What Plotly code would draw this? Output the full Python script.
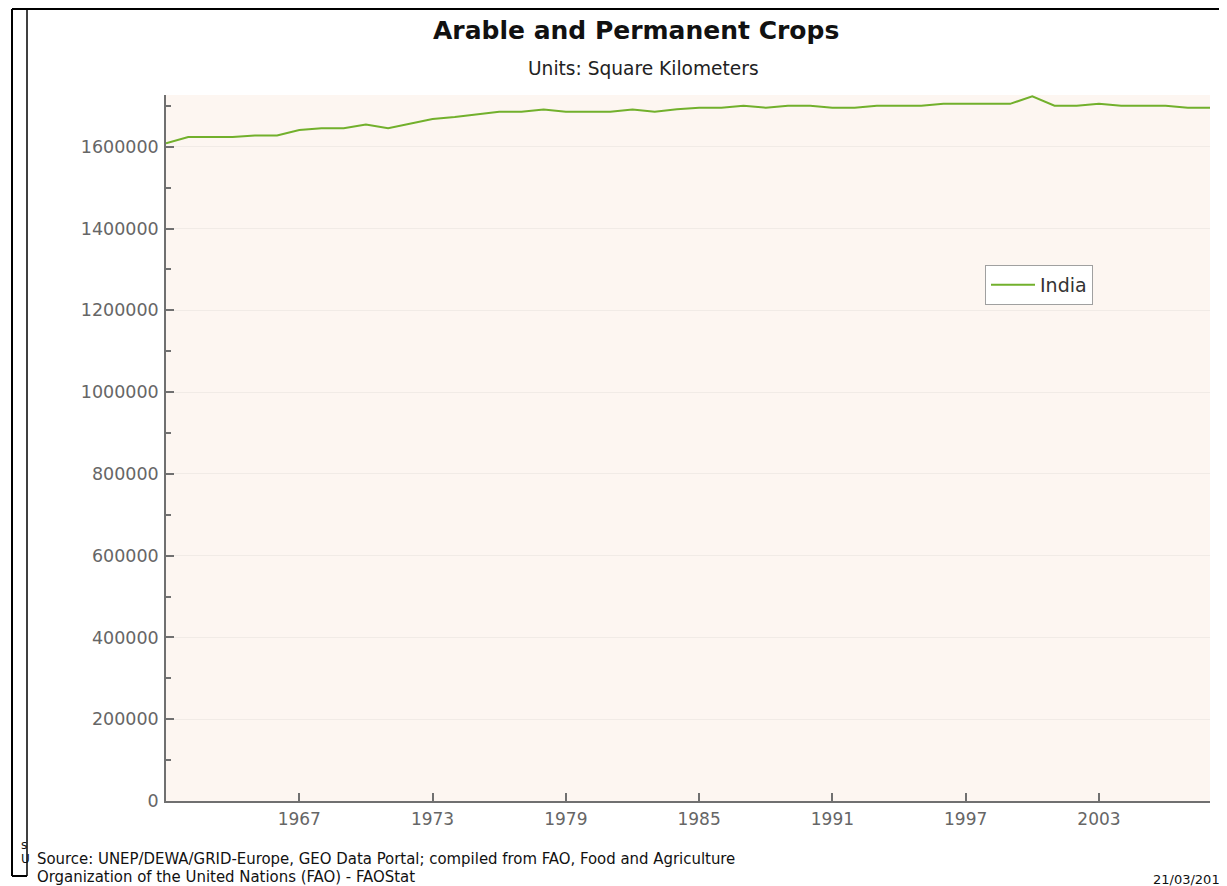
import plotly.graph_objects as go

# ---- data ----
years = list(range(1961, 2009))
india = [
    1608400, 1623600, 1623600, 1623600, 1627800, 1627800, 1641000, 1645500,
    1645500, 1654700, 1645500, 1656000, 1668000, 1673000, 1680000, 1685900,
    1685900, 1690900, 1685900, 1685900, 1685900, 1690900, 1685900, 1692000,
    1695500, 1695500, 1700600, 1695500, 1700600, 1700600, 1695500, 1695500,
    1700600, 1700600, 1700600, 1704900, 1704900, 1704900, 1704900, 1723600,
    1700600, 1700600, 1704900, 1700600, 1700600, 1700600, 1695500, 1695500,
]
x_ticks = [1967, 1973, 1979, 1985, 1991, 1997, 2003]
y_ticks = [0, 200000, 400000, 600000, 800000, 1000000, 1200000, 1400000, 1600000]

title = "Arable and Permanent Crops"
subtitle = "Units: Square Kilometers"
source_1 = "Source: UNEP/DEWA/GRID-Europe, GEO Data Portal; compiled from FAO, Food and Agriculture"
source_2 = "Organization of the United Nations (FAO) - FAOStat"
date_txt = "21/03/2011"

# the page body has an 8px margin, so work in screen pixels and shift
OFF = 8
W, H = 1227 - OFF, 886 - OFF
L, R, T, B = 166 - OFF, 1210 - OFF, 95 - OFF, 801 - OFF  # plot area in figure pixels


def px(x):  # screen x -> paper
    return (x - OFF - L) / (R - L)


def py(y):  # screen y -> paper
    return (B - (y - OFF)) / (B - T)


fig = go.Figure()
fig.add_trace(go.Scatter(
    x=years, y=india, mode="lines", name="India",
    line=dict(color="#72B02C", width=2),
))

x_font = dict(family="DejaVu Sans", size=17, color="#666666")
y_font = dict(family="DejaVu Sans", size=17.5, color="#666666")

fig.update_layout(
    width=W, height=H,
    margin=dict(l=L, r=W - R, t=T, b=H - B),
    paper_bgcolor="white",
    plot_bgcolor="#FDF6F1",
    showlegend=True,
    legend=dict(
        x=px(985), y=py(265), xanchor="left", yanchor="top",
        bgcolor="white", bordercolor="#A0A0A0", borderwidth=1,
        font=dict(family="DejaVu Sans", size=19, color="#333333"),
        tracegroupgap=0, itemwidth=44,
    ),
    xaxis=dict(
        range=[1961, 2008], tickvals=x_ticks, ticktext=[str(v) for v in x_ticks],
        ticks="inside", ticklen=8, tickcolor="#707070", tickwidth=1.5,
        showline=True, linecolor="#707070", linewidth=1.5,
        showgrid=False, zeroline=False, tickfont=x_font,
        ticklabelstandoff=2,
    ),
    yaxis=dict(
        range=[0, 1726600], tickvals=y_ticks, ticktext=[str(v) for v in y_ticks],
        ticks="inside", ticklen=8, tickcolor="#707070", tickwidth=1.5,
        showline=True, linecolor="#707070", linewidth=1.5,
        showgrid=True, gridcolor="#F1EBE6", gridwidth=1,
        zeroline=False, tickfont=y_font, ticklabelstandoff=2,
        minor=dict(dtick=100000, ticks="inside", ticklen=5, tickcolor="#707070",
                   showgrid=False),
    ),
)

annotations = [
    dict(text="<b>" + title + "</b>", x=px(636), y=py(30), xanchor="center", yanchor="middle",
         font=dict(family="DejaVu Sans", size=25, color="#111111")),
    dict(text=subtitle, x=px(643.5), y=py(68), xanchor="center", yanchor="middle",
         font=dict(family="DejaVu Sans", size=18.6, color="#222222")),
    dict(text=source_1, x=px(35), y=py(858), xanchor="left", yanchor="middle",
         font=dict(family="DejaVu Sans Condensed", size=16.6, color="#111111")),
    dict(text=source_2, x=px(35), y=py(876), xanchor="left", yanchor="middle",
         font=dict(family="DejaVu Sans Condensed", size=16.6, color="#111111")),
    dict(text=date_txt, x=px(1151), y=py(879), xanchor="left", yanchor="middle",
         font=dict(family="DejaVu Sans", size=13, color="#111111")),
    dict(text="s", x=px(19), y=py(845), xanchor="left", yanchor="middle",
         font=dict(family="DejaVu Sans", size=12, color="#111111")),
    dict(text="U", x=px(19), y=py(859), xanchor="left", yanchor="middle",
         font=dict(family="DejaVu Sans", size=12, color="#111111")),
]
for a in annotations:
    a.update(xref="paper", yref="paper", showarrow=False)
fig.update_layout(annotations=annotations)

shapes = [
    dict(type="line", x0=px(12), x1=px(1227), y0=py(9), y1=py(9), line=dict(color="black", width=2)),
    dict(type="line", x0=px(12), x1=px(12), y0=py(9), y1=py(876), line=dict(color="black", width=2)),
    dict(type="line", x0=px(27), x1=px(27), y0=py(9), y1=py(876), line=dict(color="black", width=1.5)),
    dict(type="line", x0=px(12), x1=px(27), y0=py(876), y1=py(876), line=dict(color="black", width=2)),
]
for s in shapes:
    s.update(xref="paper", yref="paper", layer="above")
fig.update_layout(shapes=shapes)

fig.write_html("out.html")
